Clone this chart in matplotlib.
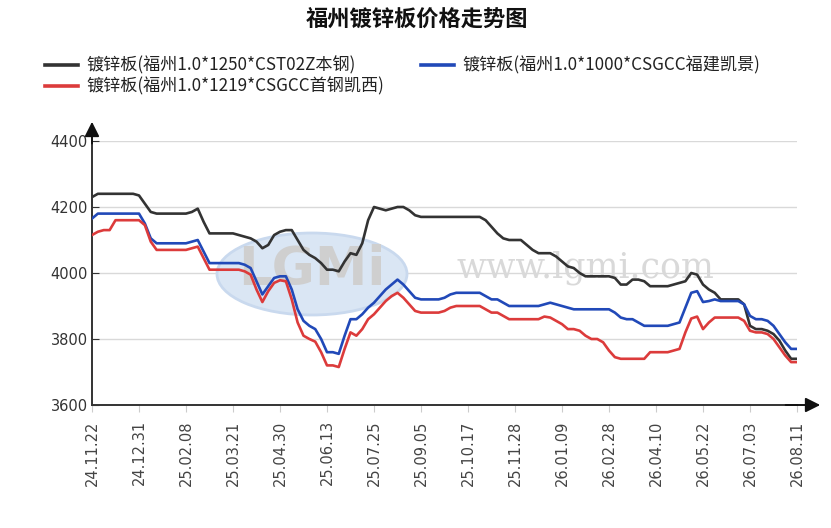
import numpy as np
import matplotlib.pyplot as plt
from matplotlib.lines import Line2D
from matplotlib.patches import Ellipse

plt.rcParams['font.family'] = ['Noto Sans CJK SC', 'DejaVu Sans']

# tick labels, one every 8 samples
dates = ['24.11.22', '24.12.31', '25.02.08', '25.03.21', '25.04.30', '25.06.13',
         '25.07.25', '25.09.05', '25.10.17', '25.11.28', '26.01.09', '26.02.28',
         '26.04.10', '26.05.22', '26.07.03', '26.08.11']

# 镀锌板(福州1.0*1250*CST02Z本钢)
benggang = [4230, 4240, 4240, 4240, 4240, 4240, 4240, 4240, 4235, 4210,
            4185, 4180, 4180, 4180, 4180, 4180, 4180, 4185, 4195, 4155,
            4120, 4120, 4120, 4120, 4120, 4115, 4110, 4105, 4095, 4075,
            4085, 4115, 4125, 4130, 4130, 4100, 4070, 4055, 4045, 4030,
            4010, 4010, 4005, 4035, 4060, 4055, 4090, 4160, 4200, 4195,
            4190, 4195, 4200, 4200, 4190, 4175, 4170, 4170, 4170, 4170,
            4170, 4170, 4170, 4170, 4170, 4170, 4170, 4160, 4140, 4120,
            4105, 4100, 4100, 4100, 4085, 4070, 4060, 4060, 4060, 4050,
            4035, 4020, 4015, 4000, 3990, 3990, 3990, 3990, 3990, 3985,
            3965, 3965, 3980, 3980, 3975, 3960, 3960, 3960, 3960, 3965,
            3970, 3975, 4000, 3995, 3965, 3950, 3940, 3920, 3920, 3920,
            3920, 3905, 3840, 3830, 3830, 3825, 3815, 3795, 3765, 3740,
            3740]

# 镀锌板(福州1.0*1000*CSGCC福建凯景)
kaijing = [4165, 4180, 4180, 4180, 4180, 4180, 4180, 4180, 4180, 4150,
           4105, 4090, 4090, 4090, 4090, 4090, 4090, 4095, 4100, 4065,
           4030, 4030, 4030, 4030, 4030, 4030, 4025, 4015, 3975, 3935,
           3960, 3985, 3990, 3990, 3950, 3890, 3855, 3840, 3830, 3800,
           3760, 3760, 3755, 3810, 3860, 3860, 3875, 3895, 3910, 3930,
           3950, 3965, 3980, 3965, 3945, 3925, 3920, 3920, 3920, 3920,
           3925, 3935, 3940, 3940, 3940, 3940, 3940, 3930, 3920, 3920,
           3910, 3900, 3900, 3900, 3900, 3900, 3900, 3905, 3910, 3905,
           3900, 3895, 3890, 3890, 3890, 3890, 3890, 3890, 3890, 3880,
           3865, 3860, 3860, 3850, 3840, 3840, 3840, 3840, 3840, 3845,
           3850, 3895, 3940, 3945, 3912, 3915, 3920, 3915, 3915, 3915,
           3915, 3905, 3870, 3860, 3860, 3855, 3840, 3815, 3790, 3770,
           3770]

# 镀锌板(福州1.0*1219*CSGCC首钢凯西)
kaixi = [4115, 4125, 4130, 4130, 4160, 4160, 4160, 4160, 4160, 4145,
         4095, 4070, 4070, 4070, 4070, 4070, 4070, 4075, 4080, 4045,
         4010, 4010, 4010, 4010, 4010, 4010, 4005, 3995, 3950, 3912,
         3945, 3970, 3978, 3975, 3920, 3850, 3810, 3800, 3792, 3760,
         3720, 3720, 3715, 3770, 3820, 3810, 3830, 3860, 3875, 3895,
         3915, 3930, 3940, 3925, 3905, 3885, 3880, 3880, 3880, 3880,
         3885, 3895, 3900, 3900, 3900, 3900, 3900, 3890, 3880, 3880,
         3870, 3860, 3860, 3860, 3860, 3860, 3860, 3868, 3865, 3855,
         3845, 3830, 3830, 3825, 3810, 3800, 3800, 3790, 3765, 3745,
         3740, 3740, 3740, 3740, 3740, 3760, 3760, 3760, 3760, 3765,
         3770, 3820, 3862, 3868, 3830, 3850, 3865, 3865, 3865, 3865,
         3865, 3855, 3825, 3820, 3820, 3815, 3800, 3775, 3750, 3730,
         3730]

names = ['镀锌板(福州1.0*1250*CST02Z本钢)',
         '镀锌板(福州1.0*1000*CSGCC福建凯景)',
         '镀锌板(福州1.0*1219*CSGCC首钢凯西)']
colors = ['#333333', '#2149b8', '#dc3b3b']

W, H = 831, 528
fig = plt.figure(figsize=(W / 100, H / 100), dpi=100)
ax = fig.add_axes([92 / W, 1 - 405 / H, 705 / W, 264 / H])

# watermark (kept under the lines)
ax.add_patch(Ellipse((312 / W, 1 - 274 / H), 190 / W, 82 / H, transform=fig.transFigure,
                     facecolor='#dae6f4', edgecolor='#c9d9ee', lw=2, zorder=0.6, clip_on=False))
ax.text(312 / W, 1 - 270 / H, 'LGMi', fontsize=38, fontweight='bold', color='#cfcfcf',
        ha='center', va='center', family='DejaVu Sans', transform=fig.transFigure, zorder=0.7)
ax.text(585 / W, 1 - 268 / H, 'www.lgmi.com', fontsize=25, color='#d9d9d9',
        ha='center', va='center', family='DejaVu Serif', transform=fig.transFigure, zorder=0.7)

x = np.arange(len(benggang))
for ys, c in zip([benggang, kaijing, kaixi], colors):
    ax.plot(x, ys, color=c, lw=1.9, solid_joinstyle='round', zorder=3)

ax.set_xlim(0, len(x) - 1)
ax.set_ylim(3600, 4400)
ax.set_xticks(x[::8])
ax.set_xticklabels(dates, rotation=90, family='DejaVu Sans', fontsize=10.5, color='#444444')
ax.set_yticks([3600, 3800, 4000, 4200, 4400])
ax.tick_params(axis='y', direction='in', length=5, color='#333333', labelsize=10.5,
               labelcolor='#333333', pad=3)
ax.tick_params(axis='x', direction='out', length=5, color='#cccccc', pad=6)
for lab in ax.get_yticklabels():
    lab.set_family('DejaVu Sans')

ax.set_axisbelow(True)
ax.yaxis.grid(True, color='#d9d9d9', lw=1)
ax.patch.set_alpha(0)
ax.spines['top'].set_visible(False)
ax.spines['right'].set_visible(False)
ax.spines['left'].set_color('#333333')
ax.spines['bottom'].set_color('#333333')
ax.spines['left'].set_linewidth(1.4)
ax.spines['bottom'].set_linewidth(1.4)

# axis arrows
ax.annotate('', xy=((823 - 92) / 705, 0), xytext=(0.98, 0), xycoords='axes fraction',
            arrowprops=dict(arrowstyle='-|>', mutation_scale=22, color='#111111', lw=1.4))
ax.annotate('', xy=(0, (405 - 119) / 264), xytext=(0, 0.98), xycoords='axes fraction',
            arrowprops=dict(arrowstyle='-|>', mutation_scale=22, color='#111111', lw=1.4))

fig.text(417 / W, 1 - 19 / H, '福州镀锌板价格走势图', fontsize=16, fontweight='bold',
         ha='center', va='center', color='#111111')

# legend
legend_pos = [(45, 65), (421, 65), (45, 86)]
for (lx, ly), name, c in zip(legend_pos, names, colors):
    fig.add_artist(Line2D([lx / W, (lx + 33) / W], [1 - ly / H, 1 - ly / H],
                          color=c, lw=2.6, transform=fig.transFigure))
    fig.text((lx + 41) / W, 1 - ly / H, name, fontsize=12.3, va='center', ha='left',
             color='#222222')

fig.savefig('out.png', dpi=100)
